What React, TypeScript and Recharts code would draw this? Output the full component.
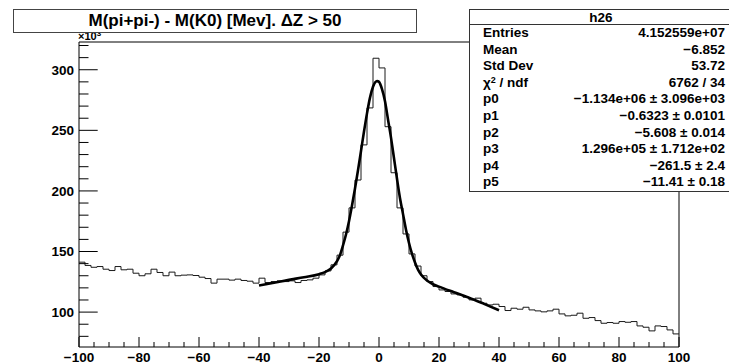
import React from 'react';
import { ComposedChart, Line, XAxis, YAxis, ReferenceArea } from 'recharts';

// Histogram h26: 100 bins of width 2 MeV from -100 to 100, counts in units of 10^3
const binStart = -100;
const binWidth = 2;
const binCounts = [
  141.2, 138.5, 137, 137.6, 135.4, 134.3, 137.6, 134.9, 135.4, 132.1,
  130, 131.6, 135.4, 132.7, 130, 133, 130, 130.5, 130.7, 130.2,
  128.8, 127.7, 123.9, 127.2, 127.2, 126.4, 127.2, 126.1, 125.5, 123.9,
  128, 124.4, 125.2, 125.8, 125.2, 125.8, 124.4, 126.1, 126.6, 128,
  130.7, 134, 139, 147, 166, 186, 209, 238, 268.5, 309.5,
  301.5, 253, 215, 186, 164.5, 148, 138, 130, 125.2, 121.1,
  118.3, 117, 115, 114.2, 112.3, 110.1, 111.5, 107.3, 105.9, 106.5,
  104.6, 101.3, 103.2, 102.4, 104, 101.8, 101, 100.2, 101, 102.4,
  98.5, 96.9, 97.4, 99.1, 94.9, 95.5, 93, 90.8, 91.4, 90.8,
  92.2, 91.6, 92.2, 88.6, 87.5, 84.5, 88.6, 88.1, 85.3, 82,
];

// Fitted curve (peak + quadratic background) over [-40, 40]
const fitX = [
  -40, -35, -30, -25, -20, -18, -16, -14, -13, -12, -11, -10, -9, -8, -7, -6, -5, -4, -3, -2, -1, -0.6,
  0, 1, 2, 3, 4, 5, 6, 7, 8, 9, 10, 11, 12, 13, 14, 16, 18, 20, 25, 30, 35, 40,
];
const fitY = [
  121.9, 124.2, 126.6, 128.8, 131.3, 133, 136, 142, 147, 155, 164, 175, 188, 202, 217, 233, 249, 264, 277, 286, 290.3, 290.6,
  290, 284, 274, 259, 244, 227, 210, 194, 181, 168, 157, 148, 141, 135, 131, 126, 123, 121, 116.4, 111.9, 106.8, 101.5,
];

// Axis ticks
const xTicks = [
  -100, -95, -90, -85, -80, -75, -70, -65, -60, -55, -50, -45, -40, -35, -30, -25, -20, -15, -10, -5,
  0, 5, 10, 15, 20, 25, 30, 35, 40, 45, 50, 55, 60, 65, 70, 75, 80, 85, 90, 95, 100,
];
const xLabels = [-100, -80, -60, -40, -20, 0, 20, 40, 60, 80, 100];
const yTicks = [80, 90, 100, 110, 120, 130, 140, 150, 160, 170, 180, 190, 200, 210, 220, 230, 240, 250, 260, 270, 280, 290, 300, 310, 320];
const yLabels = [100, 150, 200, 250, 300];
const yDomain: [number, number] = [71.2, 322.9];

// Statistics box
const statsTitle = 'h26';
const statNames = ['Entries', 'Mean', 'Std Dev', 'CHI2', 'p0', 'p1', 'p2', 'p3', 'p4', 'p5'];
const statValues = [
  '4.152559e+07',
  '\u22126.852',
  '53.72',
  '6762 / 34',
  '\u22121.134e+06 \u00b1 3.096e+03',
  '\u22120.6323 \u00b1 0.0101',
  '\u22125.608 \u00b1 0.014',
  '1.296e+05 \u00b1 1.712e+02',
  '\u2212261.5 \u00b1 2.4',
  '\u221211.41 \u00b1 0.18',
];

const titleText = 'M(pi+pi-) - M(K0) [Mev]. \u0394Z > 50';

const FONT = '"Liberation Sans", Arial, Helvetica, sans-serif';

const histData = [
  ...binCounts.map((c, i) => ({ x: binStart + i * binWidth, y: c })),
  { x: binStart + binCounts.length * binWidth, y: binCounts[binCounts.length - 1] },
];
const fitData = fitX.map((x, i) => ({ x, y: fitY[i] }));

const fmt = (v: number) => (v < 0 ? '\u2212' + Math.abs(v) : String(v));

const XTick = (props: any) => {
  const { x, y, payload } = props;
  const v = payload.value as number;
  const major = xLabels.includes(v);
  return (
    <g>
      <line x1={x} x2={x} y1={y} y2={y - (major ? 10 : 5)} stroke="#000" strokeWidth={1} />
      {major && (
        <text x={x} y={y + 14.5} textAnchor="middle" fontFamily={FONT} fontWeight="bold" fontSize={13.5} fill="#000">
          {fmt(v)}
        </text>
      )}
    </g>
  );
};

const YTick = (props: any) => {
  const { x, y, payload } = props;
  const v = payload.value as number;
  const major = yLabels.includes(v);
  return (
    <g>
      <line x1={x} x2={x + (major ? 18.7 : 9.5)} y1={y} y2={y} stroke="#000" strokeWidth={1} />
      {major && (
        <text x={x - 5} y={y} dy="0.36em" textAnchor="end" fontFamily={FONT} fontWeight="bold" fontSize={13.5} fill="#000">
          {fmt(v)}
        </text>
      )}
    </g>
  );
};

export default function App() {
  return (
    <div
      style={{
        position: 'absolute',
        left: 0,
        top: 0,
        width: 729,
        height: 363,
        overflow: 'hidden',
        background: '#fff',
        fontFamily: FONT,
      }}
    >
      <ComposedChart width={729} height={363} margin={{ top: 42, right: 50, bottom: 0, left: 0 }}>
        <XAxis
          type="number"
          dataKey="x"
          domain={[-100, 100]}
          ticks={xTicks}
          interval={0}
          height={16}
          tickSize={0}
          tickMargin={0}
          tickLine={false}
          axisLine={false}
          tick={<XTick />}
          allowDataOverflow
        />
        <YAxis
          type="number"
          domain={yDomain}
          ticks={yTicks}
          interval={0}
          width={79}
          tickSize={0}
          tickMargin={0}
          tickLine={false}
          axisLine={false}
          tick={<YTick />}
          allowDataOverflow
        />
        <ReferenceArea x1={-100} x2={100} y1={yDomain[0]} y2={yDomain[1]} fill="none" stroke="#000" strokeWidth={1} />
        <Line
          data={histData}
          dataKey="y"
          type="stepAfter"
          stroke="#1a1a1a"
          strokeWidth={1}
          dot={false}
          activeDot={false}
          isAnimationActive={false}
        />
        <Line
          data={fitData}
          dataKey="y"
          type="monotone"
          stroke="#000"
          strokeWidth={2.6}
          dot={false}
          activeDot={false}
          isAnimationActive={false}
        />
      </ComposedChart>

      {/* axis exponent */}
      <div style={{ position: 'absolute', left: 78, top: 30, fontSize: 11, fontWeight: 'bold', lineHeight: '12px', color: '#000' }}>
        {'\u00d710'}
        <sup style={{ fontSize: 8, verticalAlign: 'top', lineHeight: '8px' }}>3</sup>
      </div>

      {/* histogram title */}
      <div
        style={{
          position: 'absolute',
          left: 13,
          top: 9,
          width: 402,
          height: 22,
          border: '1px solid #444',
          background: '#fff',
          textAlign: 'center',
          fontSize: 17,
          fontWeight: 'bold',
          lineHeight: '22px',
          color: '#000',
          whiteSpace: 'nowrap',
        }}
      >
        {titleText}
      </div>

      {/* statistics box */}
      <div
        style={{
          position: 'absolute',
          left: 469,
          top: 9,
          width: 262,
          height: 181,
          border: '1px solid #333',
          background: '#fff',
          color: '#000',
          fontWeight: 'bold',
          fontSize: 13.5,
        }}
      >
        <div style={{ height: 14, lineHeight: '16px', textAlign: 'center', borderBottom: '1px solid #333' }}>{statsTitle}</div>
        {statNames.map((name, i) => (
          <div key={name} style={{ position: 'relative', height: 16.6, lineHeight: '16.6px' }}>
            <span style={{ position: 'absolute', left: 13 }}>
              {name === 'CHI2' ? (
                <>
                  {'\u03c7'}
                  <sup style={{ fontSize: 9, verticalAlign: 'top', lineHeight: '10px' }}>2</sup>
                  {' / ndf'}
                </>
              ) : (
                name
              )}
            </span>
            <span style={{ position: 'absolute', right: 7, whiteSpace: 'nowrap' }}>{statValues[i]}</span>
          </div>
        ))}
      </div>
    </div>
  );
}
